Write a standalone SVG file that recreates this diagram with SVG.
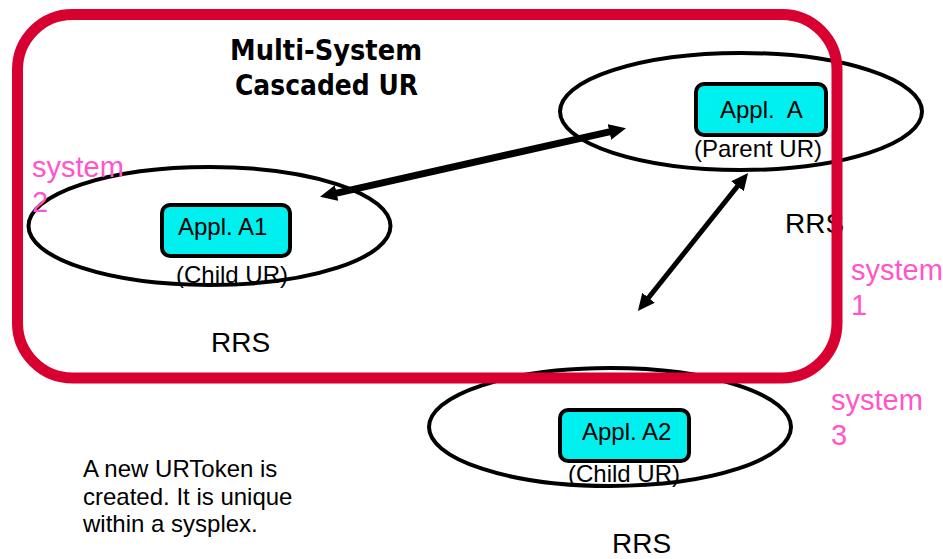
<svg xmlns="http://www.w3.org/2000/svg" width="943" height="559" viewBox="0 0 943 559">
  <style>
    .sys { fill: none; stroke: #000; stroke-width: 4; }
    .app { fill: #00F0F0; stroke: #000; stroke-width: 4; }
    .txt { font-family: "Liberation Sans", Arial, sans-serif; fill: #000; }
    .lbl { font-size: 24px; }
    .rrs { font-size: 28px; }
    .sysname { font-family: "Liberation Sans", Arial, sans-serif; font-size: 29px; fill: #FF55CC; }
    .title { font-family: "DejaVu Sans", "Comic Sans MS", sans-serif; font-weight: bold; font-size: 28px; fill: #000; }
    .link { stroke: #000; fill: none; marker-start: url(#head); marker-end: url(#head); }
    .plex { fill: none; stroke: #D80030; stroke-width: 11; }
  </style>
  <defs>
    <marker id="head" viewBox="0 0 17 16" refX="1" refY="8" markerWidth="17" markerHeight="16" markerUnits="userSpaceOnUse" orient="auto-start-reverse">
      <path d="M0,0 L17,8 L0,16 z" fill="#000"/>
    </marker>
  </defs>

  <rect width="943" height="559" fill="#fff"/>

  <!-- title -->
  <g id="title">
    <text class="title" x="230" y="60" textLength="192" lengthAdjust="spacingAndGlyphs">Multi-System</text>
    <text class="title" x="235" y="95" textLength="183" lengthAdjust="spacingAndGlyphs">Cascaded UR</text>
  </g>

  <!-- system 2: child UR -->
  <g id="system2">
    <ellipse class="sys" cx="209.5" cy="226" rx="181" ry="59"/>
    <rect class="app" x="162" y="205" width="128" height="51" rx="8"/>
    <text class="txt lbl" x="178" y="235">Appl. A1</text>
    <text class="txt lbl" x="176" y="283">(Child UR)</text>
    <text class="txt rrs" x="211" y="352">RRS</text>
    <text class="sysname" x="32" y="177">system</text>
    <text class="sysname" x="32" y="212">2</text>
  </g>

  <!-- system 1: parent UR -->
  <g id="system1">
    <ellipse class="sys" cx="741" cy="111.5" rx="181" ry="58.5"/>
    <rect class="app" x="696" y="84" width="130" height="51" rx="8"/>
    <text class="txt lbl" x="720" y="118" xml:space="preserve">Appl.  A</text>
    <text class="txt lbl" x="694" y="157">(Parent UR)</text>
    <text class="txt rrs" x="785" y="233">RRS</text>
    <text class="sysname" x="851" y="280">system</text>
    <text class="sysname" x="851" y="315">1</text>
  </g>

  <!-- system 3: child UR -->
  <g id="system3">
    <ellipse class="sys" cx="610" cy="427" rx="181" ry="59"/>
    <rect class="app" x="560" y="410" width="129" height="51" rx="8"/>
    <text class="txt lbl" x="582" y="440">Appl. A2</text>
    <text class="txt lbl" x="568" y="482">(Child UR)</text>
    <text class="txt rrs" x="612" y="553">RRS</text>
    <text class="sysname" x="831" y="410">system</text>
    <text class="sysname" x="831" y="445">3</text>
  </g>

  <!-- note -->
  <g id="note" class="txt lbl">
    <text x="83" y="477">A new URToken is</text>
    <text x="83" y="504.5">created. It is unique</text>
    <text x="83" y="532">within a sysplex.</text>
  </g>

  <!-- connectors -->
  <g id="connectors">
    <line class="link" x1="335.6" y1="193.3" x2="610.4" y2="131.7" stroke-width="7"/>
    <line class="link" x1="738.1" y1="185.5" x2="647.9" y2="298.5" stroke-width="5"/>
  </g>

  <!-- multi-system cascade boundary -->
  <g id="cascade">
    <rect class="plex" x="17.5" y="14.5" width="819.5" height="363.5" rx="55" ry="55"/>
  </g>
</svg>
